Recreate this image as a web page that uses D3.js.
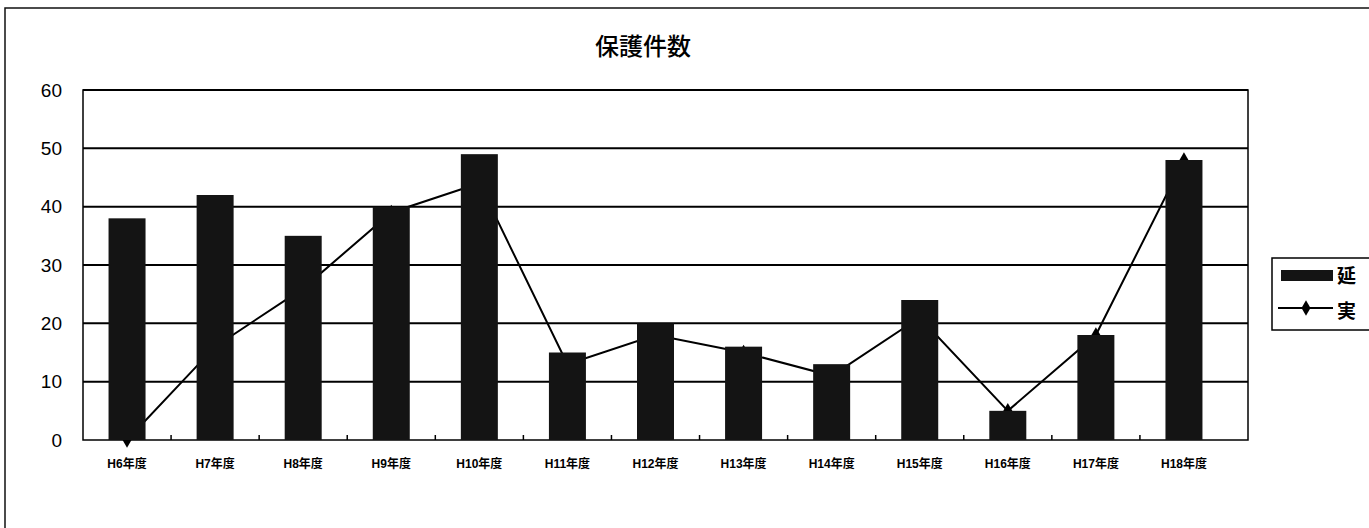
<!DOCTYPE html>
<html>
<head>
<meta charset="utf-8">
<script src="https://cdn.jsdelivr.net/npm/d3@7"></script>
<style>
  body { margin: 0; background: #fff; }
  svg { display: block; }
  .axis text { fill: #000; }
</style>
</head>
<body>
<svg width="1369" height="528"></svg>
<script>
// Data
const categories = ['H6年度', 'H7年度', 'H8年度', 'H9年度', 'H10年度', 'H11年度', 'H12年度',
  'H13年度', 'H14年度', 'H15年度', 'H16年度', 'H17年度', 'H18年度']
const nobeValues = [38, 42, 35, 40, 49, 15, 20, 16, 13, 24, 5, 18, 48]
const jitsuValues = [0, 16, 26, 39, 44, 13, 18, 15, 11, 21, 5, 18, 48]
const yTicks = [0, 10, 20, 30, 40, 50, 60]
const legendLabels = ['延', '実']
const title = '保護件数'

const svg = d3.select('svg')
const plot = {left: 83, top: 90, right: 1248, bottom: 440}
const jpFont = '"Liberation Sans", "Noto Sans CJK JP", sans-serif'

// Scales
const x = d3.scaleBand()
  .domain(categories)
  .range([plot.left, 1228])
  .paddingInner(0.58)
  .paddingOuter(0.29)
const y = d3.scaleLinear()
  .domain([0, 60])
  .range([plot.bottom, plot.top])

// outer chart frame (only top/left show inside the window)
svg.append('rect')
  .attr('x', 5).attr('y', 8)
  .attr('width', 1500).attr('height', 700)
  .attr('fill', 'none').attr('stroke', '#111').attr('stroke-width', 1.5)

svg.append('text')
  .attr('x', 643).attr('y', 48)
  .attr('text-anchor', 'middle')
  .attr('dominant-baseline', 'middle')
  .style('font-family', '"Noto Sans CJK JP", sans-serif')
  .style('font-size', '24px')
  .style('font-weight', 500)
  .text(title)

// gridlines
svg.append('g')
  .selectAll('line')
  .data(yTicks.filter(d => d > 0))
  .enter()
  .append('line')
    .attr('x1', plot.left).attr('x2', plot.right)
    .attr('y1', d => y(d)).attr('y2', d => y(d))
    .attr('stroke', '#000').attr('stroke-width', 2)

// plot frame
svg.append('rect')
  .attr('x', plot.left).attr('y', plot.top)
  .attr('width', plot.right - plot.left).attr('height', plot.bottom - plot.top)
  .attr('fill', 'none').attr('stroke', '#000').attr('stroke-width', 1.5)

// small ticks between categories, pointing up
const gap = x.step() * x.paddingInner() / 2
svg.append('g')
  .selectAll('line')
  .data(categories.slice(1))
  .enter()
  .append('line')
    .attr('x1', d => x(d) - gap).attr('x2', d => x(d) - gap)
    .attr('y1', plot.bottom).attr('y2', plot.bottom - 5)
    .attr('stroke', '#000').attr('stroke-width', 1.5)

// line series first, so the bars cover it like in the original
const cx = i => x(categories[i]) + x.bandwidth() / 2
const line = d3.line()
  .x((d, i) => cx(i))
  .y(d => y(d))
svg.append('path')
  .datum(jitsuValues)
  .attr('d', line)
  .attr('fill', 'none')
  .attr('stroke', '#000')
  .attr('stroke-width', 2)
svg.append('g')
  .selectAll('path')
  .data(jitsuValues)
  .enter()
  .append('path')
    .attr('d', d3.symbol(d3.symbolDiamond, 70))
    .attr('transform', (d, i) => 'translate(' + cx(i) + ',' + y(d) + ')')
    .attr('fill', '#000')

// bars
svg.append('g')
  .selectAll('rect')
  .data(nobeValues)
  .enter()
  .append('rect')
    .attr('x', (d, i) => x(categories[i]))
    .attr('y', d => y(d))
    .attr('width', x.bandwidth())
    .attr('height', d => y(0) - y(d))
    .attr('fill', '#141414')

// axes
const xAxis = svg.append('g')
  .attr('class', 'axis')
  .attr('transform', 'translate(0,' + plot.bottom + ')')
  .call(d3.axisBottom(x).tickSize(0).tickPadding(19))
xAxis.select('.domain').remove()
xAxis.selectAll('text')
  .style('font-family', jpFont)
  .style('font-size', '12px')
  .style('font-weight', 'bold')

const yAxis = svg.append('g')
  .attr('class', 'axis')
  .attr('transform', 'translate(' + plot.left + ',0)')
  .call(d3.axisLeft(y).tickValues(yTicks).tickSize(0).tickPadding(21))
yAxis.select('.domain').remove()
yAxis.selectAll('text')
  .style('font-family', '"Liberation Sans", Arial, sans-serif')
  .style('font-size', '19px')

// legend (cut off by the right edge, like the scan)
const legend = svg.append('g')
  .attr('transform', 'translate(1272,258)')
legend.append('rect')
  .attr('width', 160).attr('height', 72)
  .attr('fill', '#fff').attr('stroke', '#000').attr('stroke-width', 1.5)
legend.append('rect')
  .attr('x', 9).attr('y', 12).attr('width', 52).attr('height', 11)
  .attr('fill', '#141414')
legend.append('line')
  .attr('x1', 6).attr('x2', 61).attr('y1', 50).attr('y2', 50)
  .attr('stroke', '#000').attr('stroke-width', 2)
legend.append('path')
  .attr('d', d3.symbol(d3.symbolDiamond, 70))
  .attr('transform', 'translate(34,50)')
legend.selectAll('text')
  .data(legendLabels)
  .enter()
  .append('text')
    .attr('x', 65)
    .attr('y', (d, i) => i === 0 ? 20 : 55)
    .attr('dominant-baseline', 'middle')
    .style('font-family', '"Noto Sans CJK JP", sans-serif')
    .style('font-size', '19px')
    .style('font-weight', 'bold')
    .text(d => d)
</script>
</body>
</html>
